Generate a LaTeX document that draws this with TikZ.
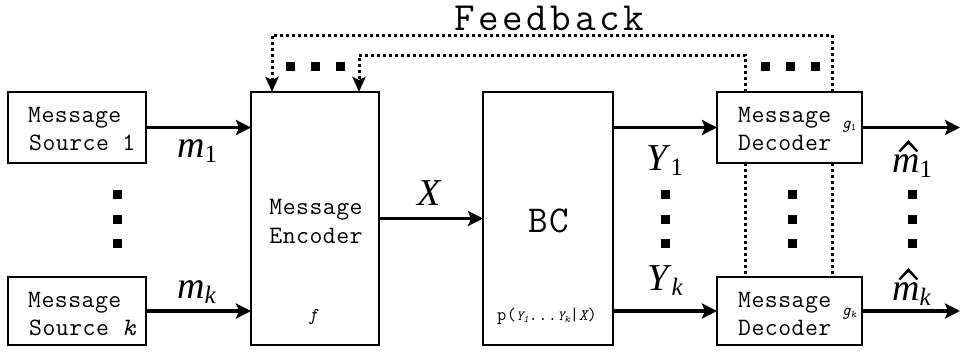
\documentclass[tikz,border=0pt]{standalone}
\usepackage{graphicx}
\usepackage{fontspec}
\setmainfont{Liberation Serif}
\setmonofont{Latin Modern Mono}[LetterSpace=2]
\usetikzlibrary{arrows.meta}

% symbol with a subscript in the label style
\newcommand{\symsub}[2]{\textit{#1}\raisebox{-5pt}{\fontsize{25}{25}\selectfont#2}}
\newcommand{\smallsub}[2]{\textit{#1}\raisebox{-2pt}{\fontsize{10}{10}\selectfont#2}}
% italic m with a wide hat drawn as a small wedge
\newcommand{\hathat}{\tikz[x=1pt,y=1pt,baseline=0pt]
  \fill (0,21)--(10,32)--(20,21)--(18,20)--(10,28)--(2,20)--cycle;}
\newcommand{\hatm}{\ooalign{\textit{m}\cr\hidewidth\kern5pt\hathat\hidewidth\cr}}

\begin{document}
\begin{tikzpicture}[x=1pt,y=-1pt,
  blk/.style={draw,line width=2.4pt,inner sep=0pt,outer sep=0pt},
  sig/.style={line width=3.4pt,-{Stealth[length=15pt,width=15pt,inset=3pt]}},
  fb/.style={line width=3pt,dash pattern=on 3pt off 3pt},
  fbarrow/.style={fb,-{Stealth[length=15pt,width=13pt,inset=3pt]}},
  dotsq/.style={fill=black,minimum size=9pt,inner sep=0pt,outer sep=0pt},
  mono/.style={font=\fontsize{25}{28}\selectfont\ttfamily,inner sep=0pt},
  lbl/.style={font=\fontsize{38}{38}\selectfont,inner sep=0pt},
  fn/.style={font=\fontsize{18}{18}\selectfont\ttfamily\itshape,inner sep=0pt}
]
\useasboundingbox (0,0) rectangle (960,356);

% blocks
\node[blk,minimum width=138pt,minimum height=71pt] (src1) at (77,127.5) {};
\node[blk,minimum width=138pt,minimum height=68pt] (srck) at (77,311) {};
\node[blk,minimum width=128pt,minimum height=253pt] (enc) at (315,218.5) {};
\node[blk,minimum width=130pt,minimum height=253pt] (bc) at (548,218.5) {};
\node[blk,minimum width=145pt,minimum height=71pt] (dec1) at (789.5,127.5) {};
\node[blk,minimum width=145pt,minimum height=68pt] (deck) at (789.5,311) {};

% block texts
\node[mono,anchor=base west] (s1a) at (28,122) {Message};
\node[mono,anchor=base west] (s1b) at (29,150) {Source 1};
\node[mono,anchor=base west] (ska) at (28,307) {Message};
\node[mono,anchor=base west] (skb) at (29,335) {Source \textit{k}};
\node[mono,anchor=base] (enca) at (316,214) {Message};
\node[mono,anchor=base] (encb) at (316,243) {Encoder};
\node[fn,anchor=base] (encf) at (313,320) {f};
\node[anchor=base,inner sep=0pt,font=\fontsize{38}{38}\selectfont\ttfamily\addfontfeature{LetterSpace=4}] (bcname) at (549,232) {BC};
\node[anchor=base,inner sep=0pt,font=\fontsize{18}{18}\selectfont\ttfamily] (bcp) at (547,320)
  {p({\fontsize{14}{14}\selectfont\itshape\smallsub{Y}{1}}...{\fontsize{14}{14}\selectfont\itshape\smallsub{Y}{k}}|{\fontsize{16}{16}\selectfont\itshape X})};
\node[mono,anchor=base west] (d1a) at (738,122) {Message};
\node[mono,anchor=base west] (d1b) at (738,150) {Decoder};
\node[mono,anchor=base west] (dka) at (738,307) {Message};
\node[mono,anchor=base west] (dkb) at (738,335) {Decoder};
\node[fn,font=\fontsize{17}{17}\selectfont\ttfamily\itshape] (g1) at (849,127) {g\raisebox{-2pt}{\fontsize{10}{10}\selectfont\upshape 1}};
\node[fn,font=\fontsize{17}{17}\selectfont\ttfamily\itshape] (gk) at (849,314) {g\raisebox{-2pt}{\fontsize{10}{10}\selectfont k}};
\node[anchor=base,inner sep=0pt,font=\fontsize{40}{40}\selectfont\ttfamily\addfontfeature{LetterSpace=9}] (fbtitle) at (549,30) {Feedback};

% signal labels
\node[lbl,anchor=base west] (m1) at (177,157) {\symsub{m}{1}};
\node[lbl,anchor=base west] (mk) at (177,298) {\symsub{m}{\textit{k}}};
\node[lbl,anchor=base west] (xl) at (417,205) {\textit{X}};
\node[lbl,anchor=base west] (y1) at (646,170) {\symsub{Y}{1}};
\node[lbl,anchor=base west] (yk) at (647,290) {\symsub{Y}{\textit{k}}};
\node[lbl,anchor=base west] (mh1) at (892,172) {\symsub{\hatm}{1}};
\node[lbl,anchor=base west] (mhk) at (892,300) {\symsub{\hatm}{\textit{k}}};

% signal arrows
\coordinate (out1) at (960,127.5);
\coordinate (outk) at (960,311);
\draw[sig] (src1.east) -- (src1.east -| enc.west);
\draw[sig] (srck.east) -- (srck.east -| enc.west);
\draw[sig] (enc.east |- bc.west) -- (bc.west);
\draw[sig] (bc.east |- dec1.west) -- (dec1.west);
\draw[sig] (bc.east |- deck.west) -- (deck.west);
\draw[sig] (dec1.east) -- (out1);
\draw[sig] (deck.east) -- (outk);

% feedback paths
\draw[fbarrow] ([xshift=42.5pt]dec1.north) -- ++(0,-57) -| ([xshift=-43pt]enc.north);
\draw[fbarrow] ([xshift=-44.5pt]dec1.north) -- ++(0,-37) -| ([xshift=44pt]enc.north);
\draw[fb] ([xshift=42.5pt]dec1.south) -- ([xshift=42.5pt]deck.north);
\draw[fb] ([xshift=-44.5pt]dec1.south) -- ([xshift=-44.5pt]deck.north);

% ellipsis squares
\foreach \x/\n in {290/a,315/b,340/c,765/d,790/e,815/f}
  \node[dotsq] (h\n) at (\x,66) {};
\foreach \x/\c in {117/l,665/y,792/d,912/o}
  \foreach \y/\n in {194/1,219/2,243/3}
    \node[dotsq] (v\c\n) at (\x,\y) {};
\end{tikzpicture}
\end{document}
